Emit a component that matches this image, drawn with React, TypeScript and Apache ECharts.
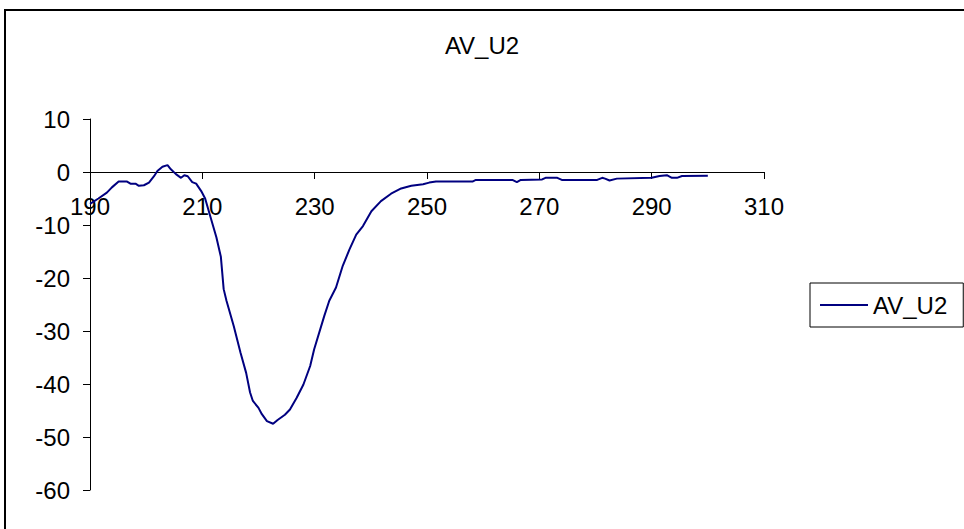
import React, { useEffect, useRef } from "react";
import * as echarts from "echarts";

const seriesName = "AV_U2";
const wavelength = [
  190.0, 191.5, 193.0, 193.9, 195.1, 196.6, 197.2, 198.1, 198.7, 199.6, 200.5, 201.4, 202.0, 202.9,
  203.8, 204.4, 205.3, 206.2, 206.8, 207.4, 208.2, 208.9, 209.8, 210.5, 211.4, 212.5, 213.3, 213.8,
  214.3, 215.6, 216.8, 217.8, 218.5, 219.0, 220.0, 220.6, 221.5, 222.6, 223.4, 224.7, 225.6, 226.8,
  228.0, 229.2, 229.9, 231.7, 232.6, 233.8, 235.0, 236.2, 237.4, 238.6, 240.1, 241.8, 243.6, 245.4,
  247.2, 249.3, 250.4, 251.6, 258.1, 258.7, 265.2, 266.0, 266.7, 270.5, 271.1, 273.2, 274.0, 280.3,
  281.2, 281.7, 282.5, 283.8, 290.0, 291.4, 292.7, 293.6, 294.5, 295.4, 300.0,
];
const avU2 = [
  -6.0, -5.0, -3.9, -2.9, -1.8, -1.8, -2.2, -2.2, -2.6, -2.5, -2.0, -0.8, 0.2, 1.0,
  1.3, 0.5, -0.4, -1.1, -0.6, -0.8, -1.9, -2.2, -3.6, -5.0, -8.3, -12.3, -16.0, -22.1,
  -24.3, -29.1, -34.1, -37.9, -41.6, -43.2, -44.5, -45.7, -47.0, -47.5, -46.8, -45.8, -44.8, -42.6,
  -40.1, -36.6, -33.5, -27.2, -24.3, -21.8, -17.7, -14.6, -11.8, -10.2, -7.4, -5.5, -4.1, -3.1,
  -2.6, -2.3, -2.0, -1.8, -1.8, -1.5, -1.5, -1.9, -1.5, -1.4, -1.1, -1.1, -1.5, -1.5,
  -1.1, -1.25, -1.6, -1.25, -1.1, -0.75, -0.6, -1.1, -1.1, -0.75, -0.7,
];
const xTicks = [190, 210, 230, 250, 270, 290, 310];
const yTicks = [10, 0, -10, -20, -30, -40, -50, -60];

const FONT = "'Liberation Sans', Arial, sans-serif";
const FS = 24;

export default function App() {
  const ref = useRef<HTMLDivElement>(null);
  useEffect(() => {
    if (!ref.current) return;
    const chart = echarts.init(ref.current, undefined, { renderer: "svg" });
    const data = wavelength.map((w, i) => [w, avU2[i]]);
    chart.setOption({
      animation: false,
      backgroundColor: "#fff",
      textStyle: { fontFamily: FONT },
      title: {
        text: seriesName,
        left: "center",
        top: 28,
        textStyle: { fontFamily: FONT, fontSize: FS, fontWeight: "normal", color: "#000" },
      },
      graphic: [
        {
          type: "rect",
          shape: { x: 5, y: 10, width: 1000, height: 600 },
          style: { fill: "none", stroke: "#000", lineWidth: 2 },
          silent: true,
        },
      ],
      legend: {
        data: [seriesName],
        left: 810,
        top: 283,
        orient: "vertical",
        icon: "rect",
        itemWidth: 48,
        itemHeight: 2,
        itemGap: 0,
        padding: [10, 16, 10, 10],
        borderColor: "#000",
        borderWidth: 1,
        backgroundColor: "#fff",
        textStyle: { fontFamily: FONT, fontSize: FS, color: "#000" },
      },
      grid: { left: 90, right: 200, top: 119, bottom: 39 },
      xAxis: {
        type: "value",
        min: 190,
        max: 310,
        offset: -318,
        axisLine: { onZero: false, lineStyle: { color: "#000", width: 1 } },
        axisTick: { show: true, length: 7, customValues: xTicks, lineStyle: { color: "#000" } },
        axisLabel: {
          customValues: xTicks,
          margin: 22,
          fontFamily: FONT,
          fontSize: FS,
          color: "#000",
        },
        splitLine: { show: false },
      },
      yAxis: {
        type: "value",
        min: -60,
        max: 10,
        interval: 10,
        axisLine: { show: true, onZero: false, lineStyle: { color: "#000", width: 1 } },
        axisTick: { show: true, length: 7, customValues: yTicks, lineStyle: { color: "#000" } },
        axisLabel: {
          customValues: yTicks,
          margin: 20,
          fontFamily: FONT,
          fontSize: FS,
          color: "#000",
        },
        splitLine: { show: false },
      },
      series: [
        {
          name: seriesName,
          type: "line",
          data,
          symbol: "none",
          lineStyle: { color: "#000080", width: 2 },
          itemStyle: { color: "#000080" },
        },
      ],
    });
    return () => chart.dispose();
  }, []);
  return <div ref={ref} style={{ width: 964, height: 529, position: "absolute", left: 0, top: 0 }} />;
}
